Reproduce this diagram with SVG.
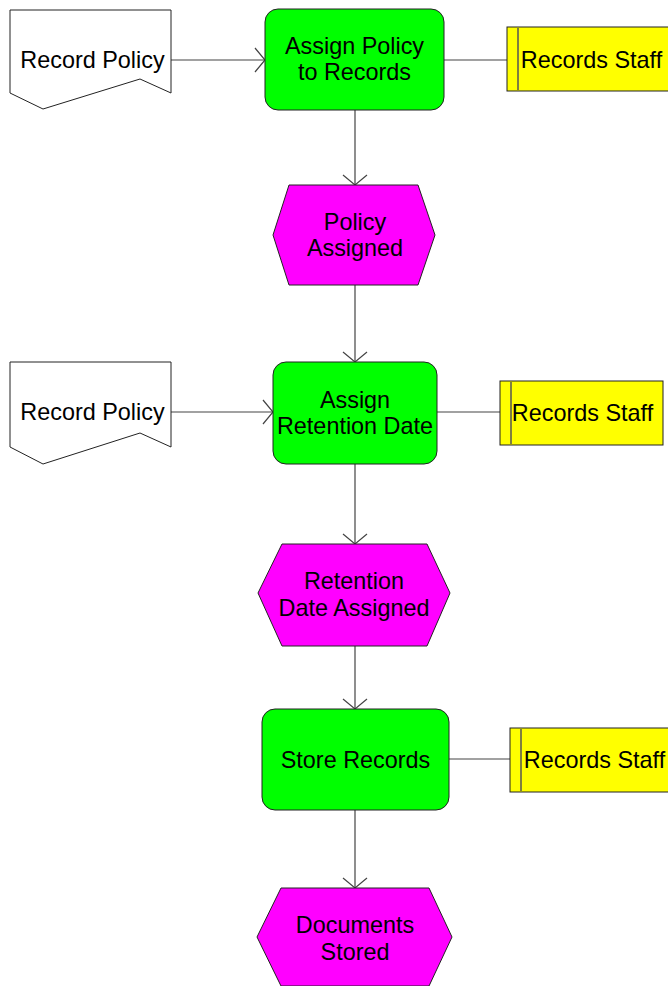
<svg xmlns="http://www.w3.org/2000/svg" width="668" height="986" viewBox="0 0 668 986">
  <style>
    text { font-family: "Liberation Sans", Arial, sans-serif; font-size: 23.4px; fill: #000; text-anchor: middle; }
    .func { fill: #00FF00; stroke: #222; stroke-width: 1; }
    .event { fill: #FF00FF; stroke: #222; stroke-width: 1; }
    .doc { fill: #FFFFFF; stroke: #222; stroke-width: 1; }
    .org { fill: #FFFF00; stroke: #222; stroke-width: 1; }
    .orgbar { stroke: #555; stroke-width: 1.5; fill: none; }
    .conn { stroke: #444; stroke-width: 1.2; fill: none; }
  </style>
  <defs>
    <marker id="open" markerUnits="userSpaceOnUse" markerWidth="14" markerHeight="28" refX="11" refY="13" orient="auto" viewBox="0 0 14 28">
      <path d="M1,1 L11,13 L1,25" fill="none" stroke="#444" stroke-width="1.2"/>
    </marker>
  </defs>

  <rect width="668" height="986" fill="#FFFFFF"/>

  <!-- connectors -->
  <g id="connectors">
    <line class="conn" x1="171" y1="60" x2="265" y2="60" marker-end="url(#open)"/>
    <line class="conn" x1="444" y1="60" x2="507" y2="60"/>
    <line class="conn" x1="355" y1="110" x2="355" y2="185" marker-end="url(#open)"/>
    <line class="conn" x1="355" y1="285" x2="355" y2="362" marker-end="url(#open)"/>
    <line class="conn" x1="171" y1="412" x2="273" y2="412" marker-end="url(#open)"/>
    <line class="conn" x1="437" y1="412" x2="500" y2="412"/>
    <line class="conn" x1="355" y1="464" x2="355" y2="544" marker-end="url(#open)"/>
    <line class="conn" x1="355" y1="646" x2="355" y2="709" marker-end="url(#open)"/>
    <line class="conn" x1="449" y1="759" x2="510" y2="759"/>
    <line class="conn" x1="355" y1="810" x2="355" y2="888" marker-end="url(#open)"/>
  </g>

  <!-- documents -->
  <g id="doc-record-policy-1">
    <path class="doc" d="M10,10 L171,10 L171,93 L140,79 L43,109 L10,93 Z"/>
    <text x="92.5" y="68">Record Policy</text>
  </g>
  <g id="doc-record-policy-2">
    <path class="doc" d="M10,362 L171,362 L171,447 L140,433 L43,464 L10,447 Z"/>
    <text x="92.5" y="420">Record Policy</text>
  </g>

  <!-- functions -->
  <g id="fn-assign-policy">
    <rect class="func" x="265" y="9" width="179" height="101" rx="13" ry="13"/>
    <text x="354.5" y="54">Assign Policy</text>
    <text x="354.5" y="80">to Records</text>
  </g>
  <g id="fn-assign-retention">
    <rect class="func" x="273" y="362" width="164" height="102" rx="13" ry="13"/>
    <text x="355" y="408">Assign</text>
    <text x="355" y="434">Retention Date</text>
  </g>
  <g id="fn-store-records">
    <rect class="func" x="262" y="709" width="187" height="101" rx="13" ry="13"/>
    <text x="355.5" y="768">Store Records</text>
  </g>

  <!-- events -->
  <g id="ev-policy-assigned">
    <path class="event" d="M289,185 L418,185 L435,235 L418,285 L289,285 L273,235 Z"/>
    <text x="355" y="230">Policy</text>
    <text x="355" y="256">Assigned</text>
  </g>
  <g id="ev-retention-assigned">
    <path class="event" d="M282,544 L427,544 L450,593 L427,646 L282,646 L258,593 Z"/>
    <text x="354" y="589">Retention</text>
    <text x="354" y="616">Date Assigned</text>
  </g>
  <g id="ev-documents-stored">
    <path class="event" d="M281,888 L429,888 L452,937 L429,986 L281,986 L257,937 Z"/>
    <text x="355" y="933">Documents</text>
    <text x="355" y="960">Stored</text>
  </g>

  <!-- organisational units -->
  <g id="org-staff-1">
    <rect class="org" x="507" y="27" width="170" height="64"/>
    <line class="orgbar" x1="518" y1="28" x2="518" y2="90"/>
    <text x="591.5" y="68">Records Staff</text>
  </g>
  <g id="org-staff-2">
    <rect class="org" x="500" y="381" width="163" height="64"/>
    <line class="orgbar" x1="511" y1="382" x2="511" y2="444"/>
    <text x="582.5" y="421">Records Staff</text>
  </g>
  <g id="org-staff-3">
    <rect class="org" x="510" y="728" width="170" height="64"/>
    <line class="orgbar" x1="521" y1="729" x2="521" y2="791"/>
    <text x="594.5" y="768">Records Staff</text>
  </g>
</svg>
